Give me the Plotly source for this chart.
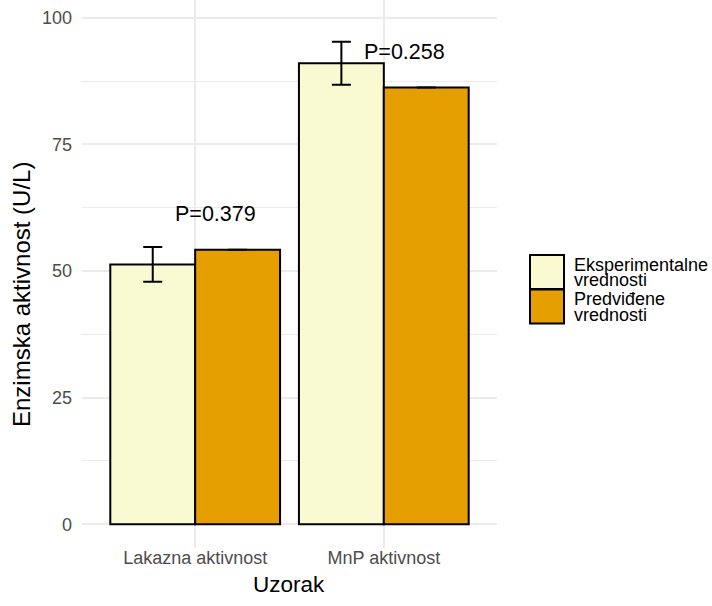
import plotly.graph_objects as go

categories = ["Lakazna aktivnost", "MnP aktivnost"]
exp_values = [51.3, 91.0]
exp_errors = [3.45, 4.25]
pred_values = [54.2, 86.2]
pred_errors = [0.0, 0.0]
p_labels = ["P=0.379", "P=0.258"]
series_names = [["Eksperimentalne", "vrednosti"], ["Predviđene", "vrednosti"]]
colors = ["#FAFAD2", "#E69F00"]
y_ticks = [0, 25, 50, 75, 100]

FONT = "Liberation Sans, Arial, sans-serif"

W, H = 712, 606
L, T, PW, PH = 82, 0, 415, 548


def px(xp):
    return (xp - L) / PW


def py(yp):
    return 1 - (yp - T) / PH


fig = go.Figure()
for vals, errs, col, nm in [(exp_values, exp_errors, colors[0], series_names[0]),
                            (pred_values, pred_errors, colors[1], series_names[1])]:
    fig.add_trace(go.Bar(
        x=categories, y=vals, name=" ".join(nm),
        marker=dict(color=col, line=dict(color="black", width=2)),
        error_y=dict(type="data", array=errs, visible=True, color="black",
                     thickness=2, width=9.5),
        showlegend=False,
    ))

annotations = []
# P-value labels
for i, (lab, pv) in enumerate(zip(p_labels, pred_values)):
    annotations.append(dict(x=i + 0.11, y=pv + 7, xref="x", yref="y", text=lab,
                            showarrow=False, font=dict(size=21.5, color="black", family=FONT),
                            xanchor="center", yanchor="middle"))

# axis titles
annotations.append(dict(x=px(289), y=py(585), xref="paper", yref="paper", text="Uzorak",
                        showarrow=False, font=dict(size=22.5, color="black", family=FONT),
                        xanchor="center", yanchor="middle"))
annotations.append(dict(x=px(21), y=py(295), xref="paper", yref="paper",
                        text="Enzimska aktivnost (U/L)", textangle=-90,
                        showarrow=False, font=dict(size=24, color="black", family=FONT),
                        xanchor="center", yanchor="middle"))

# manual legend
shapes = []
key_tops = [255, 289.5]
for k, (col, nm) in enumerate(zip(colors, series_names)):
    top = key_tops[k]
    shapes.append(dict(type="rect", xref="paper", yref="paper",
                       x0=px(530), x1=px(564), y0=py(top + 34), y1=py(top),
                       fillcolor=col, line=dict(color="black", width=2)))
    for j, line in enumerate(nm):
        annotations.append(dict(x=px(572), y=py(top + 9.5 + j * 15.5), xref="paper", yref="paper",
                                text=line, showarrow=False,
                                font=dict(size=18, color="black", family=FONT),
                                xanchor="left", yanchor="middle"))

fig.update_layout(
    width=W, height=H,
    margin=dict(l=L, r=W - L - PW, t=T, b=H - T - PH, autoexpand=False),
    paper_bgcolor="white", plot_bgcolor="white",
    barmode="group", bargap=0.1, bargroupgap=0,
    font=dict(family=FONT),
    annotations=annotations, shapes=shapes,
    xaxis=dict(range=[-0.6, 1.6], showgrid=True, gridcolor="#EBEBEB", gridwidth=2,
               tickfont=dict(size=18, color="#4D4D4D", family=FONT), ticks="",
               showline=False, zeroline=False, ticklabelstandoff=-3, automargin=False),
    yaxis=dict(range=[-4.7, 103.5], tickvals=y_ticks, showgrid=True, gridcolor="#EBEBEB",
               gridwidth=2, zeroline=False, showline=False, ticks="", automargin=False,
               tickfont=dict(size=18, color="#4D4D4D", family=FONT), ticklabelstandoff=9,
               minor=dict(tick0=0, dtick=12.5, showgrid=True, gridcolor="#EBEBEB", gridwidth=1)),
)

fig.write_html(
    "out.html",
    config={"displayModeBar": False},
    post_script="document.body.style.margin='0';document.body.style.padding='0';"
                "document.body.style.overflow='hidden';",
)
